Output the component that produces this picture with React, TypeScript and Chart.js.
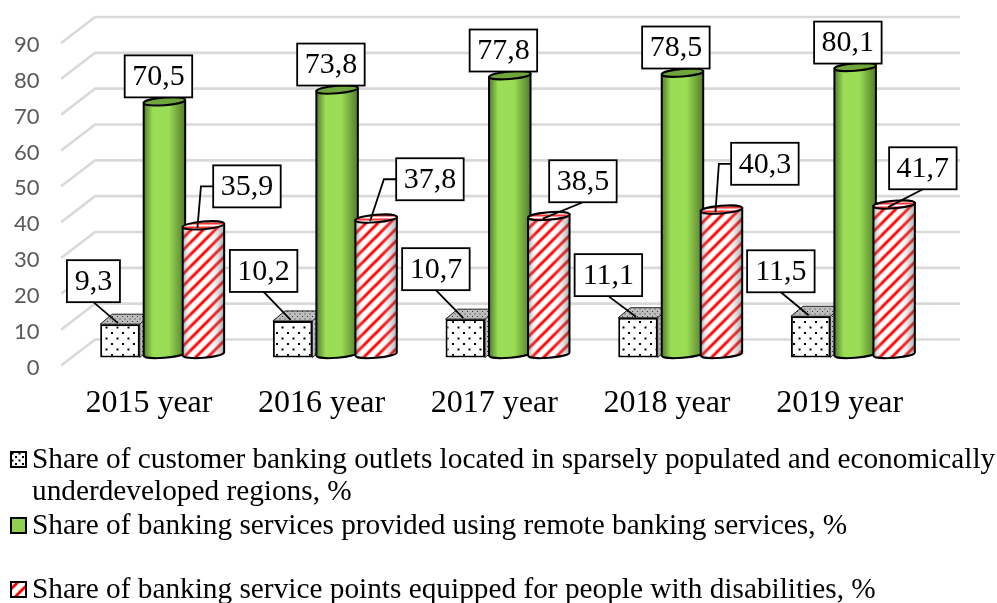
import React, { useEffect, useRef } from "react";
import { Chart, registerables } from "chart.js";

Chart.register(...registerables);

const categories = ["2015 year", "2016 year", "2017 year", "2018 year", "2019 year"];
const outletsShare = [9.3, 10.2, 10.7, 11.1, 11.5];
const remoteShare = [70.5, 73.8, 77.8, 78.5, 80.1];
const disabledShare = [35.9, 37.8, 38.5, 40.3, 41.7];
const legendLines = [
  "Share of customer banking outlets located in sparsely populated and economically",
  "underdeveloped regions, %",
  "Share of banking services provided using remote banking services, %",
  "Share of banking service points equipped for people with disabilities, %",
];

// label box centre relative to the top of its bar
const outletsLabelOffsets = [[-26.5, -43], [-29, -50], [-29.4, -50], [-29.6, -42.6], [-29.8, -45]];
const remoteLabelOffsets = [[-6, -25], [-6.2, -25], [-6.4, -24.7], [-6.6, -25.2], [-7.3, -24.4]];
const disabledLabelOffsets = [[43.5, -39], [53.8, -39.3], [34.1, -34.8], [43.4, -45.8], [28.7, -36.3]];
const disabledLeaderElbow = [true, true, false, true, false];

const SERIF = '"Liberation Serif", "Times New Roman", serif';
const TICK_DROP = 2;
const shifts = [[11, -8 - TICK_DROP], [15.5, -11.5 - TICK_DROP], [14.5, -11.5 - TICK_DROP]];
const TILT = -0.08;
const DEPTH_X = 34;
const DEPTH_Y = -26;

function tile(w: number, h: number, paint: (c: CanvasRenderingContext2D) => void) {
  const cv = document.createElement("canvas");
  cv.width = w;
  cv.height = h;
  const c = cv.getContext("2d")!;
  paint(c);
  return c.createPattern(cv, "repeat")!;
}

const dotted = (bg: string, s: number, d: number, ink: string) =>
  tile(s, s, (c) => {
    c.fillStyle = bg;
    c.fillRect(0, 0, s, s);
    c.fillStyle = ink;
    c.fillRect(1, 1, d, d);
    c.fillRect(1 + s / 2, 1 + s / 2, d, d);
  });

const striped = () =>
  tile(12, 12, (c) => {
    c.fillStyle = "#fff";
    c.fillRect(0, 0, 12, 12);
    c.strokeStyle = "#f00";
    c.lineWidth = 2.9;
    for (const o of [-12, 0, 12]) {
      c.beginPath();
      c.moveTo(o - 2, 14);
      c.lineTo(o + 14, -2);
      c.stroke();
    }
  });

const bands = () =>
  tile(4, 4, (c) => {
    c.fillStyle = "#fff";
    c.fillRect(0, 0, 4, 4);
    c.fillStyle = "#f33";
    c.fillRect(0, 0, 4, 2);
  });

function cylinder(
  c: CanvasRenderingContext2D,
  el: any,
  body: CanvasPattern | string,
  top: CanvasPattern | string,
  edge: string,
  mid: string
) {
  const { x, y, base, width: w } = el;
  const l = x - w / 2;
  const r = x + w / 2;
  const rx = w / 2;
  const ry = 3.8;
  const g = c.createLinearGradient(l, 0, r, 0);
  g.addColorStop(0, edge);
  g.addColorStop(0.22, mid);
  g.addColorStop(0.6, mid);
  g.addColorStop(1, edge);

  const outline = () => {
    c.beginPath();
    c.moveTo(l, y + 1.6);
    c.lineTo(l, base + 1.6);
    c.ellipse(x, base, rx, ry, TILT, Math.PI, 0, true);
    c.lineTo(r, y - 1.6);
    c.closePath();
  };
  outline();
  c.fillStyle = body;
  c.fill();
  outline();
  c.fillStyle = g;
  c.fill();
  outline();
  c.strokeStyle = "#000";
  c.lineWidth = 2;
  c.stroke();
  c.beginPath();
  c.ellipse(x, y, rx, ry, TILT, 0, Math.PI * 2);
  c.fillStyle = top;
  c.fill();
  c.stroke();
}

function cube(c: CanvasRenderingContext2D, el: any, sideFill: CanvasPattern) {
  const { x, y, base, width: w } = el;
  const l = x - w / 2;
  const r = x + w / 2;
  const dx = 12;
  const dy = -10;
  c.strokeStyle = "#222";
  c.lineWidth = 1;
  c.fillStyle = sideFill;
  c.beginPath();
  c.moveTo(l, y);
  c.lineTo(l + dx, y + dy);
  c.lineTo(r + dx, y + dy);
  c.lineTo(r + dx, base + dy);
  c.lineTo(r, base);
  c.lineTo(r, y);
  c.closePath();
  c.fill();
  c.stroke();
  c.beginPath();
  c.moveTo(r, y);
  c.lineTo(r + dx, y + dy);
  c.stroke();
}

function labelBox(c: CanvasRenderingContext2D, value: number, cx: number, cy: number) {
  const text = value.toFixed(1).replace(".", ",");
  const bw = text.length > 3 ? 67.5 : 53;
  const bh = 42;
  c.fillStyle = "#fff";
  c.fillRect(cx - bw / 2, cy - bh / 2, bw, bh);
  c.strokeStyle = "#000";
  c.lineWidth = 1.8;
  c.strokeRect(cx - bw / 2, cy - bh / 2, bw, bh);
  c.fillStyle = "#000";
  c.font = `30px ${SERIF}`;
  c.textAlign = "center";
  c.textBaseline = "middle";
  c.fillText(text, cx, cy + 1);
}

function leader(c: CanvasRenderingContext2D, pts: number[][]) {
  c.strokeStyle = "#000";
  c.lineWidth = 1.8;
  c.beginPath();
  pts.forEach(([a, b], i) => (i ? c.lineTo(a, b) : c.moveTo(a, b)));
  c.stroke();
}

export default function App() {
  const ref = useRef<HTMLCanvasElement>(null);

  useEffect(() => {
    const dots = dotted("#ffffff", 11, 2, "#000");
    const swatchDots = dotted("#ffffff", 7, 2, "#000");
    const darkDots = dotted("#bdbdbd", 5, 1, "#333");
    const stripes = striped();
    const topBands = bands();

    const threeD = {
      id: "threeD",
      beforeDatasetsDraw(chart: any) {
        const c = chart.ctx;
        const y = chart.scales.y;
        const left = chart.chartArea.left - 1.5;
        c.save();
        c.strokeStyle = "#d9d9d9";
        c.lineWidth = 2.6;
        y.ticks.forEach((t: any) => {
          const py = y.getPixelForValue(t.value) - TICK_DROP;
          c.beginPath();
          c.moveTo(left, py);
          c.lineTo(left + DEPTH_X, py + DEPTH_Y);
          c.lineTo(960, py + DEPTH_Y);
          c.stroke();
        });
        c.restore();
      },
      beforeDatasetDraw() {
        return false; // painted in a fixed back-to-front order below
      },
      afterDatasetsDraw(chart: any) {
        const c = chart.ctx;
        [0, 1, 2].forEach((d) => {
          const meta = chart.getDatasetMeta(d);
          c.save();
          c.translate(shifts[d][0], shifts[d][1]);
          if (d === 0) meta.data.forEach((el: any) => cube(c, el, darkDots));
          meta.controller.draw();
          if (d === 1)
            meta.data.forEach((el: any) =>
              cylinder(c, el, "#92d050", "#6fa53a", "rgba(78,116,38,0.9)", "rgba(155,222,86,0.95)")
            );
          if (d === 2)
            meta.data.forEach((el: any) =>
              cylinder(c, el, stripes, topBands, "rgba(70,70,70,0.45)", "rgba(255,255,255,0)")
            );
          c.restore();
        });

        // data labels with their leader lines
        const sets = [
          { values: outletsShare, off: outletsLabelOffsets },
          { values: remoteShare, off: remoteLabelOffsets },
          { values: disabledShare, off: disabledLabelOffsets },
        ];
        sets.forEach((s, d) => {
          const meta = chart.getDatasetMeta(d);
          s.values.forEach((v, i) => {
            const el = meta.data[i];
            const tx = el.x + shifts[d][0];
            const ty = el.y + shifts[d][1];
            const cx = tx + s.off[i][0];
            const cy = ty + s.off[i][1];
            if (d === 0) leader(c, [[cx, cy + 21], [tx - 2, ty - 1]]);
            if (d === 2) {
              if (disabledLeaderElbow[i])
                leader(c, [[cx - 33, cy], [cx - 46, cy], [tx - 6, ty + 2.5]]);
              else leader(c, [[cx, cy + 21], [tx - 6, ty + 2.5]]);
            }
          });
        });
        sets.forEach((s, d) => {
          const meta = chart.getDatasetMeta(d);
          s.values.forEach((v, i) => {
            const el = meta.data[i];
            labelBox(c, v, el.x + shifts[d][0] + s.off[i][0], el.y + shifts[d][1] + s.off[i][1]);
          });
        });

        // legend
        const rows = [
          { line: 0, y: 459, swatch: swatchDots },
          { line: 1, y: 491, swatch: null },
          { line: 2, y: 525, swatch: "#92d050" },
          { line: 3, y: 589, swatch: stripes },
        ];
        c.save();
        c.textAlign = "left";
        c.textBaseline = "middle";
        rows.forEach((r) => {
          c.fillStyle = "#000";
          c.font = `29.3px ${SERIF}`;
          c.fillText(legendLines[r.line], 32, r.y + 1.5);
          if (r.swatch) {
            c.fillStyle = r.swatch;
            c.fillRect(11, r.y - 7, 15, 15);
            c.strokeStyle = "#000";
            c.lineWidth = 2;
            c.strokeRect(11, r.y - 7, 15, 15);
          }
        });
        c.restore();
      },
    };

    const chart = new Chart(ref.current!, {
      type: "bar",
      data: {
        labels: categories,
        datasets: [
          {
            label: legendLines[0] + " " + legendLines[1],
            data: outletsShare,
            backgroundColor: dots,
            borderColor: "#000",
            borderWidth: 2,
            borderSkipped: false,
            maxBarThickness: 39.5,
          },
          {
            label: legendLines[2],
            data: remoteShare,
            backgroundColor: "#92d050",
            maxBarThickness: 41.5,
          },
          {
            label: legendLines[3],
            data: disabledShare,
            backgroundColor: stripes,
            maxBarThickness: 41.5,
          },
        ],
      },
      options: {
        responsive: false,
        animation: false,
        categoryPercentage: 0.695,
        barPercentage: 1.05,
        layout: { padding: { top: 43 + TICK_DROP, right: 71, left: 0, bottom: 0 } },
        plugins: { legend: { display: false }, tooltip: { enabled: false } },
        scales: {
          x: {
            grid: { display: false, drawTicks: false },
            border: { display: false },
            ticks: {
              color: "#000",
              font: { family: SERIF, size: 32 },
              padding: 17,
              maxRotation: 0,
              autoSkip: false,
            },
            afterFit: (s: any) => {
              s.height = 237.5 - TICK_DROP;
            },
          },
          y: {
            min: 0,
            max: 90,
            grid: { display: false, drawTicks: false },
            border: { display: false },
            ticks: {
              stepSize: 10,
              color: "#595959",
              font: { family: "Lato", size: 22 },
              padding: 23,
            },
            afterFit: (s: any) => {
              s.width = 62.6;
            },
          },
        },
      } as any,
      plugins: [threeD as any],
    });
    return () => chart.destroy();
  }, []);

  return (
    <div style={{ position: "fixed", left: 0, top: 0, width: 997, height: 603, background: "#fff" }}>
      <canvas ref={ref} width={997} height={603} style={{ display: "block" }} />
    </div>
  );
}
